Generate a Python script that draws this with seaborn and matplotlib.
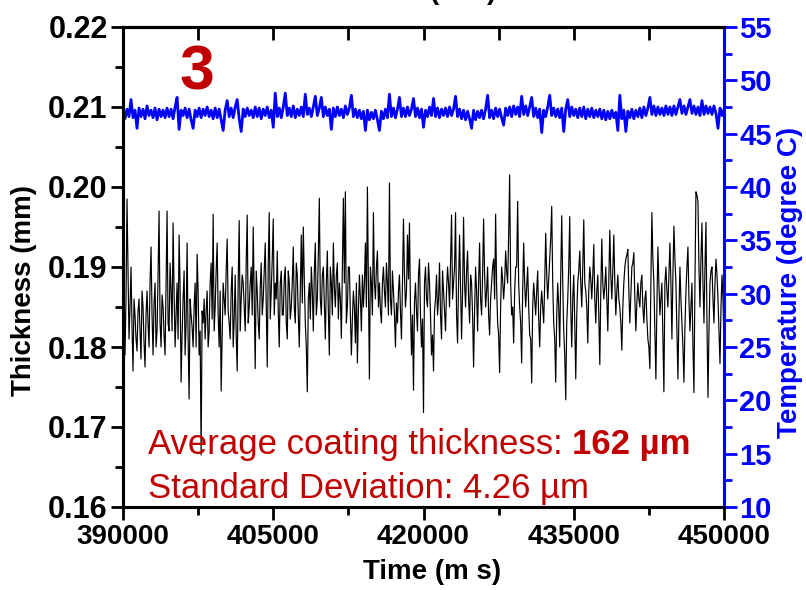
import matplotlib
matplotlib.use("Agg")
import numpy as np
import pandas as pd
import seaborn as sns
import matplotlib.pyplot as plt
from matplotlib.ticker import MultipleLocator, FixedLocator, NullFormatter

# ---------------- data ----------------
t_start_ms, t_end_ms = 390000, 450000

# thickness samples at even positions (every 200 ms) ...
thickness_even_mm = [
    0.1960, 0.1790, 0.1985, 0.1810, 0.1900, 0.1770, 0.1840, 0.1795, 0.1860, 0.1785,
    0.1850, 0.1775, 0.1870, 0.1800, 0.1925, 0.1790, 0.1880, 0.1820, 0.1970, 0.1800,
    0.1850, 0.1790, 0.1970, 0.1820, 0.1870, 0.1955, 0.1800, 0.1880, 0.1940, 0.1756,
    0.1860, 0.1790, 0.1930, 0.1735, 0.1840, 0.1800, 0.1880, 0.1916, 0.1790, 0.1665,
    0.1830, 0.1810, 0.1870, 0.1820, 0.1905, 0.1966, 0.1850, 0.1930, 0.1800, 0.1745,
    0.1880, 0.1840, 0.1935, 0.1830, 0.1870, 0.1800, 0.1890, 0.1770, 0.1958, 0.1860,
    0.1880, 0.1820, 0.1965, 0.1850, 0.1900, 0.1950, 0.1773, 0.1870, 0.1810, 0.1905,
    0.1860, 0.1930, 0.1775, 0.1968, 0.1870, 0.1960, 0.1880, 0.1920, 0.1800, 0.1895,
    0.1840, 0.1900, 0.1810, 0.1880, 0.1850, 0.1925, 0.1830, 0.1890, 0.1800, 0.1940,
    0.1950, 0.1830, 0.1744, 0.1880, 0.1900, 0.1820, 0.1930, 0.1860, 0.1986, 0.1840,
    0.1900, 0.1810, 0.1920, 0.1790, 0.1880, 0.1930, 0.1850, 0.1905, 0.1880, 0.1811,
    0.1986, 0.1994, 0.1850, 0.1900, 0.1790, 0.1870, 0.1805, 0.1780, 0.1890, 0.1820,
    0.1850, 0.1930, 0.2000, 0.1760, 0.1880, 0.1968, 0.1860, 0.1920, 0.1880, 0.1830,
    0.1900, 0.1850, 0.1880, 0.2005, 0.1840, 0.1870, 0.1800, 0.1830, 0.1890, 0.1810,
    0.1960, 0.1850, 0.1940, 0.1955, 0.1790, 0.1746, 0.1880, 0.1820, 0.1910, 0.1800,
    0.1718, 0.1900, 0.1850, 0.1880, 0.1790, 0.1770, 0.1860, 0.1840, 0.1905, 0.1810,
    0.1870, 0.1820, 0.1900, 0.1850, 0.1965, 0.1880, 0.1968, 0.1805, 0.1940, 0.1810,
    0.1962, 0.1850, 0.1920, 0.1830, 0.1880, 0.1775, 0.1900, 0.1820, 0.1930, 0.1840,
    0.1960, 0.1850, 0.1900, 0.1815, 0.1880, 0.1910, 0.1966, 0.1830, 0.1768, 0.1900,
    0.1860, 0.1920, 0.1880, 0.2015, 0.1840, 0.1805, 0.1900, 0.1982, 0.1850, 0.1780,
    0.1930, 0.1850, 0.1900, 0.1815, 0.1755, 0.1880, 0.1840, 0.1895, 0.1800, 0.1870,
    0.1830, 0.1942, 0.1860, 0.1910, 0.1976, 0.1830, 0.1756, 0.1880, 0.1800, 0.1964,
    0.1820, 0.1734, 0.1860, 0.1963, 0.1800, 0.1890, 0.1760, 0.1880, 0.1920, 0.1850,
    0.1959, 0.1870, 0.1805, 0.1900, 0.1860, 0.1928, 0.1830, 0.1890, 0.1778, 0.1935,
    0.1860, 0.1900, 0.1820, 0.1946, 0.1860, 0.1940, 0.1840, 0.1890, 0.1850, 0.1796,
    0.1880, 0.1910, 0.1922, 0.1830, 0.1900, 0.1918, 0.1820, 0.1880, 0.1850, 0.1890,
    0.1830, 0.1870, 0.1810, 0.1773, 0.1968, 0.1880, 0.1760, 0.1925, 0.1840, 0.1880,
    0.1744, 0.1900, 0.1850, 0.1930, 0.1810, 0.1951, 0.1880, 0.1760, 0.1900, 0.1830,
    0.1756, 0.1870, 0.1925, 0.1820, 0.1880, 0.1743, 0.1994, 0.1982, 0.1850, 0.1955,
    0.1830, 0.1956, 0.1737, 0.1880, 0.1900, 0.1830, 0.1910, 0.1860, 0.1779, 0.1890,
    0.1800,
]
# ... and the samples lying between them (odd positions)
thickness_odd_mm = [
    0.1880, 0.1860, 0.1895, 0.1850, 0.1825, 0.1860, 0.1810, 0.1845, 0.1820, 0.1870,
    0.1805, 0.1840, 0.1830, 0.1880, 0.1840, 0.1855, 0.1800, 0.1890, 0.1830, 0.1865,
    0.1815, 0.1880, 0.1830, 0.1905, 0.1820, 0.1870, 0.1840, 0.1810, 0.1875, 0.1815,
    0.1895, 0.1830, 0.1810, 0.1860, 0.1825, 0.1850, 0.1800, 0.1870, 0.1820, 0.1845,
    0.1860, 0.1845, 0.1800, 0.1880, 0.1835, 0.1820, 0.1895, 0.1840, 0.1870, 0.1810,
    0.1860, 0.1895, 0.1845, 0.1810, 0.1900, 0.1835, 0.1815, 0.1880, 0.1820, 0.1890,
    0.1850, 0.1905, 0.1830, 0.1880, 0.1840, 0.1860, 0.1895, 0.1830, 0.1875, 0.1840,
    0.1895, 0.1850, 0.1905, 0.1835, 0.1910, 0.1840, 0.1860, 0.1845, 0.1880, 0.1840,
    0.1885, 0.1830, 0.1895, 0.1835, 0.1880, 0.1850, 0.1905, 0.1840, 0.1870, 0.1855,
    0.1885, 0.1800, 0.1860, 0.1835, 0.1870, 0.1895, 0.1840, 0.1915, 0.1860, 0.1890,
    0.1855, 0.1880, 0.1845, 0.1900, 0.1840, 0.1875, 0.1890, 0.1835, 0.1860, 0.1900,
    0.1880, 0.1830, 0.1900, 0.1840, 0.1835, 0.1850, 0.1880, 0.1845, 0.1860, 0.1890,
    0.1880, 0.1850, 0.1880, 0.1900, 0.1840, 0.1880, 0.1900, 0.1850, 0.1845, 0.1880,
    0.1870, 0.1905, 0.1840, 0.1860, 0.1895, 0.1840, 0.1855, 0.1870, 0.1845, 0.1880,
    0.1890, 0.1870, 0.1885, 0.1850, 0.1840, 0.1855, 0.1845, 0.1890, 0.1840, 0.1835,
    0.1880, 0.1860, 0.1905, 0.1840, 0.1815, 0.1845, 0.1890, 0.1860, 0.1840, 0.1895,
    0.1845, 0.1870, 0.1880, 0.1910, 0.1860, 0.1900, 0.1840, 0.1880, 0.1875, 0.1870,
    0.1880, 0.1895, 0.1860, 0.1890, 0.1840, 0.1845, 0.1870, 0.1880, 0.1860, 0.1890,
    0.1890, 0.1870, 0.1840, 0.1860, 0.1900, 0.1860, 0.1875, 0.1815, 0.1850, 0.1885,
    0.1880, 0.1895, 0.1940, 0.1880, 0.1850, 0.1870, 0.1900, 0.1880, 0.1830, 0.1870,
    0.1880, 0.1875, 0.1850, 0.1810, 0.1850, 0.1860, 0.1870, 0.1835, 0.1850, 0.1850,
    0.1880, 0.1890, 0.1885, 0.1935, 0.1880, 0.1810, 0.1840, 0.1850, 0.1890, 0.1880,
    0.1790, 0.1830, 0.1900, 0.1850, 0.1860, 0.1830, 0.1840, 0.1895, 0.1880, 0.1900,
    0.1880, 0.1850, 0.1870, 0.1885, 0.1890, 0.1860, 0.1870, 0.1840, 0.1870, 0.1880,
    0.1875, 0.1860, 0.1885, 0.1890, 0.1895, 0.1880, 0.1870, 0.1860, 0.1830, 0.1850,
    0.1900, 0.1915, 0.1870, 0.1865, 0.1905, 0.1860, 0.1855, 0.1860, 0.1880, 0.1850,
    0.1860, 0.1835, 0.1800, 0.1880, 0.1910, 0.1820, 0.1850, 0.1880, 0.1860, 0.1810,
    0.1880, 0.1870, 0.1890, 0.1880, 0.1890, 0.1910, 0.1820, 0.1840, 0.1860, 0.1800,
    0.1825, 0.1900, 0.1860, 0.1850, 0.1800, 0.1880, 0.1990, 0.1900, 0.1910, 0.1880,
    0.1900, 0.1830, 0.1820, 0.1895, 0.1860, 0.1880, 0.1890, 0.1820, 0.1850, 0.1860,
]

temperature_c = [
    47.5, 46.4, 47.3, 46.6, 48.2, 46.5, 47.2, 45.5, 47.4, 46.6, 47.3, 46.4, 47.6, 46.7, 47.2, 46.5, 47.4, 46.3, 47.3, 46.6,
    47.2, 46.5, 47.4, 46.6, 47.3, 46.4, 47.5, 48.4, 45.4, 47.2, 46.7, 47.4, 46.5, 47.3, 46.3, 45.5, 47.2, 46.6, 47.4, 46.5,
    47.3, 46.7, 47.5, 46.6, 47.2, 46.4, 47.4, 46.5, 47.3, 46.3, 45.3, 47.2, 48.1, 46.6, 47.4, 46.5, 47.5, 48.2, 46.4, 45.2,
    47.3, 46.6, 47.4, 46.7, 47.2, 46.5, 47.5, 46.6, 47.4, 46.4, 47.3, 46.7, 47.5, 46.5, 47.2, 45.6, 48.8, 46.6, 47.4, 46.5,
    47.5, 48.8, 46.7, 47.4, 46.6, 47.6, 46.5, 47.3, 46.7, 47.5, 46.6, 48.7, 46.8, 47.4, 46.6, 47.5, 48.5, 46.7, 47.4, 48.4,
    46.6, 47.5, 46.7, 47.3, 45.4, 47.4, 46.6, 47.5, 46.7, 47.3, 46.5, 47.6, 46.8, 47.4, 48.6, 46.6, 47.3, 46.5, 47.2, 46.4,
    47.1, 45.3, 47.2, 46.3, 47.0, 46.4, 47.2, 46.3, 45.3, 47.1, 46.4, 47.3, 46.5, 48.7, 46.6, 47.4, 46.5, 47.3, 48.4, 46.6,
    47.4, 46.6, 47.5, 46.7, 47.3, 48.3, 46.6, 47.4, 46.5, 47.3, 45.6, 47.2, 46.6, 47.5, 46.7, 48.3, 46.6, 47.4, 46.5, 47.3,
    46.7, 47.4, 46.6, 47.5, 46.7, 47.3, 48.5, 46.6, 47.3, 46.4, 47.2, 46.3, 47.1, 46.4, 45.5, 47.2, 46.3, 47.1, 46.5, 47.2,
    46.4, 47.3, 48.6, 46.5, 47.2, 46.4, 47.4, 46.6, 47.3, 46.5, 45.8, 47.4, 46.7, 47.5, 46.6, 47.6, 46.8, 47.5, 46.6, 48.5,
    46.8, 47.6, 46.7, 47.5, 48.4, 46.6, 47.4, 46.5, 47.3, 45.1, 47.2, 46.6, 47.5, 48.6, 46.7, 47.4, 46.6, 47.3, 46.5, 47.4,
    45.2, 47.3, 48.2, 46.6, 47.5, 46.7, 47.3, 46.5, 47.4, 46.6, 47.5, 46.4, 47.3, 46.6, 47.4, 46.5, 47.2, 46.6, 47.3, 46.4,
    47.2, 46.3, 47.1, 46.4, 47.2, 46.5, 47.0, 45.3, 48.6, 46.4, 47.2, 45.2, 47.1, 46.5, 47.3, 46.4, 47.2, 46.6, 47.4, 46.5,
    47.5, 46.7, 47.4, 48.4, 46.8, 47.6, 46.7, 47.5, 46.8, 47.4, 46.7, 47.6, 46.8, 47.5, 46.7, 47.6, 46.8, 47.5, 48.2, 46.9,
    47.6, 46.8, 47.5, 48.2, 46.9, 47.6, 46.8, 47.5, 46.7, 48.1, 46.8, 47.6, 46.9, 47.5, 46.8, 47.6, 46.9, 45.5, 47.4, 46.7,
    47.3,
]

x_ticks = [390000, 405000, 420000, 435000, 450000]
y_left_ticks = [0.16, 0.17, 0.18, 0.19, 0.20, 0.21, 0.22]
y_right_ticks = [10, 15, 20, 25, 30, 35, 40, 45, 50, 55]

x_label = "Time (m s)"
y_left_label = "Thickness (mm)"
y_right_label = "Temperature (degree C)"
top_fragment = "(m s)"
panel_label = "3"
avg_prefix = "Average coating thickness: "
avg_value = "162 µm"
std_text = "Standard Deviation: 4.26 µm"

RED = "#C00000"
BLUE = "#0000FF"

# ---------------- style ----------------
sns.set_style("ticks")
FONT = ["Liberation Sans", "DejaVu Sans"]
plt.rcParams["font.family"] = FONT
for k in ("text.color", "axes.labelcolor", "xtick.color", "ytick.color",
          "axes.edgecolor"):
    plt.rcParams[k] = "black"

thickness_mm = np.empty(len(thickness_even_mm) + len(thickness_odd_mm))
thickness_mm[0::2] = thickness_even_mm
thickness_mm[1::2] = thickness_odd_mm

thick_df = pd.DataFrame({
    "time": np.linspace(t_start_ms, t_end_ms, len(thickness_mm)),
    "thickness": thickness_mm,
})
temp_df = pd.DataFrame({
    "time": np.linspace(t_start_ms, t_end_ms, len(temperature_c)),
    "temperature": temperature_c,
})

fig = plt.figure(figsize=(8.06, 5.90), dpi=100)
ax = fig.add_axes([123 / 806, 1 - 507 / 590, (724 - 123) / 806, (507 - 27) / 590])
ax2 = ax.twinx()

sns.lineplot(data=thick_df, x="time", y="thickness", ax=ax, color="black",
             linewidth=0.85, estimator=None, sort=False)
sns.lineplot(data=temp_df, x="time", y="temperature", ax=ax2, color=BLUE,
             linewidth=2.0, estimator=None, sort=False)

ax.set_xlim(t_start_ms, t_end_ms)
ax.set_ylim(0.16, 0.22)
ax2.set_ylim(10, 55)

ytick_font = dict(family=FONT, weight="bold", size=22)
xtick_font = dict(family=FONT, weight="bold", size=20)
rtick_font = dict(family=FONT, weight="bold", size=21)
label_font = dict(family=FONT, weight="bold", size=20)

# x axis (bottom)
ax.xaxis.set_major_locator(FixedLocator(x_ticks))
ax.xaxis.set_minor_locator(MultipleLocator(7500))
ax.set_xticklabels([str(v) for v in x_ticks], **xtick_font)
ax.tick_params(axis="x", which="major", direction="out", length=9, width=2, pad=3,
               bottom=True, top=False)
ax.tick_params(axis="x", which="minor", direction="out", length=6, width=2,
               bottom=True, top=False)
ax.set_xlabel(x_label, **label_font, labelpad=7)
ax.xaxis.label.set_x(0.514)

# top axis ticks (inward, no labels)
top = ax.secondary_xaxis("top")
top.xaxis.set_major_locator(MultipleLocator(7500))
top.xaxis.set_major_formatter(NullFormatter())
top.tick_params(axis="x", direction="in", length=9, width=2, color="black")
top.spines["top"].set_linewidth(2.2)
top.spines["top"].set_color("black")

# left y axis
ax.yaxis.set_major_locator(FixedLocator(y_left_ticks))
ax.yaxis.set_minor_locator(MultipleLocator(0.005))
ax.set_yticklabels([f"{v:.2f}" for v in y_left_ticks], **ytick_font)
ax.tick_params(axis="y", which="major", direction="out", length=9, width=2, pad=2,
               left=True, right=False)
ax.tick_params(axis="y", which="minor", direction="out", length=6, width=2,
               left=True, right=False)
ax.set_ylabel(y_left_label, **label_font, labelpad=8)
ax.yaxis.label.set_y(0.45)

# right y axis
ax2.yaxis.set_major_locator(FixedLocator(y_right_ticks))
ax2.yaxis.set_minor_locator(MultipleLocator(2.5))
ax2.set_yticklabels([str(v) for v in y_right_ticks], color=BLUE, **rtick_font)
ax2.tick_params(axis="y", which="major", direction="out", length=9, width=2, pad=2,
                colors=BLUE)
ax2.tick_params(axis="y", which="minor", direction="out", length=6, width=2,
                colors=BLUE)
ax2.set_ylabel(y_right_label, color=BLUE, **label_font, labelpad=4)
ax2.yaxis.label.set_y(0.467)
ax2.set_xlabel("")

for a in (ax, ax2):
    for s in a.spines.values():
        s.set_linewidth(2.2)
        s.set_color("black")
ax2.spines["right"].set_color(BLUE)
ax.spines["right"].set_visible(False)

# annotations
ax.text(0.123, 0.905, panel_label, transform=ax.transAxes, color=RED,
        family=FONT, weight="bold", size=45, ha="center", va="center")

ann_font = dict(family=FONT, size=25, color=RED)
t1 = ax.text(0.042, 0.13, avg_prefix, transform=ax.transAxes, ha="left",
             va="center", **ann_font)
fig.canvas.draw()
bb = t1.get_window_extent(renderer=fig.canvas.get_renderer())
x_end = ax.transAxes.inverted().transform((bb.x1, bb.y0))[0]
ax.text(x_end, 0.13, avg_value, transform=ax.transAxes, ha="left", va="center",
        weight="bold", **ann_font)
ax.text(0.042, 0.038, std_text, transform=ax.transAxes, ha="left", va="center",
        **ann_font)

# clipped fragment at the very top of the figure
fig.text(463 / 806, 1 + 1 / 590, top_fragment, ha="center", va="baseline",
         **label_font)

fig.savefig("out.png", dpi=100)
